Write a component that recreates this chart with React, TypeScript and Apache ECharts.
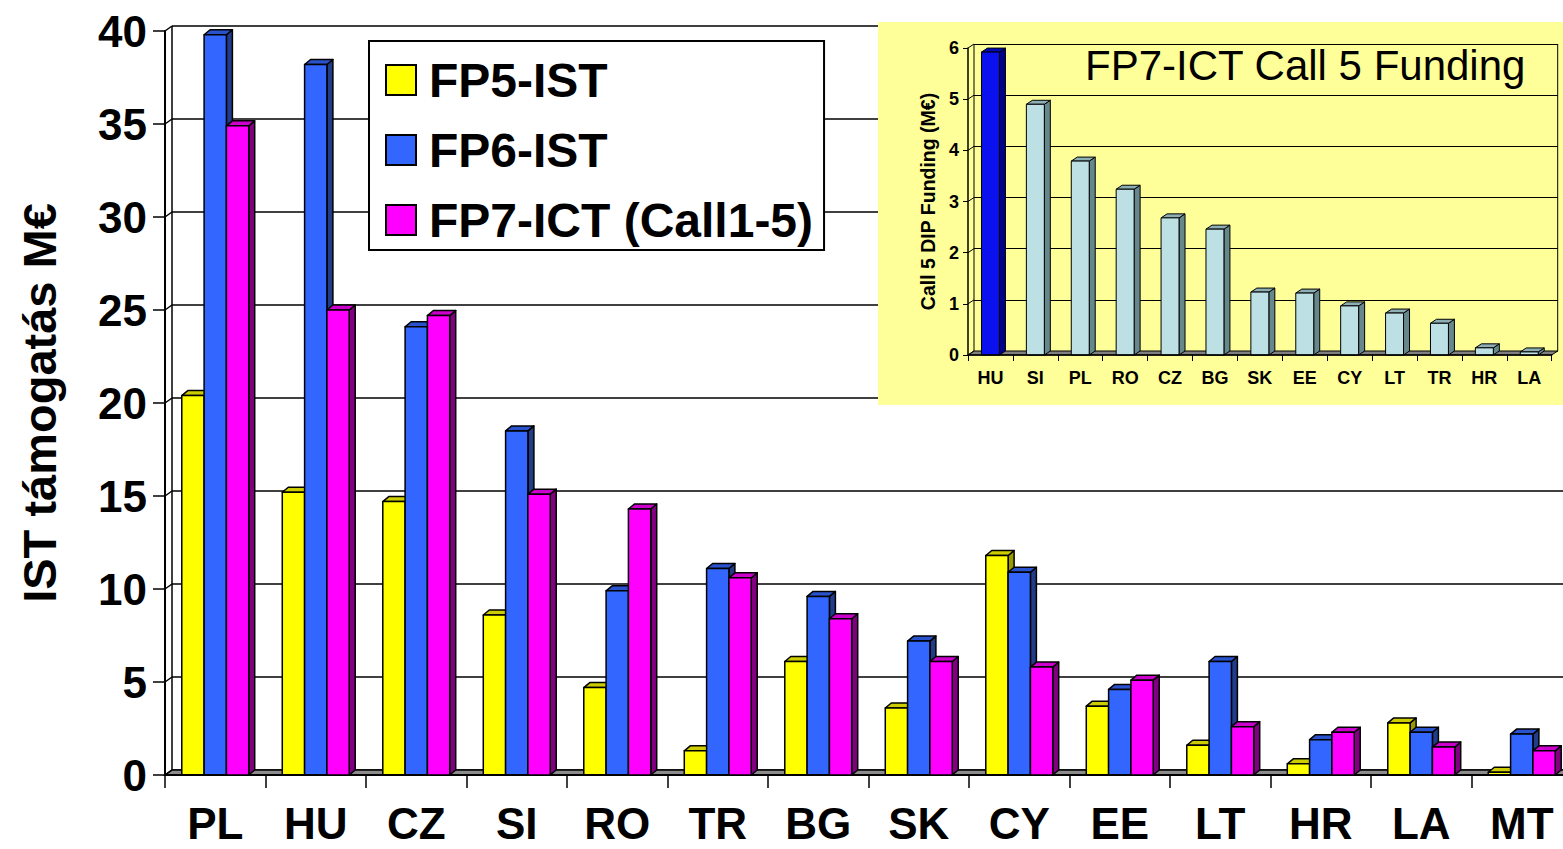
import React, { useEffect, useRef } from "react";
import * as echarts from "echarts";

const categories = ["PL", "HU", "CZ", "SI", "RO", "TR", "BG", "SK", "CY", "EE", "LT", "HR", "LA", "MT"];
const fp5Values = [20.4, 15.2, 14.7, 8.6, 4.7, 1.3, 6.1, 3.6, 11.8, 3.7, 1.6, 0.6, 2.8, 0.15];
const fp6Values = [39.8, 38.2, 24.1, 18.5, 9.9, 11.1, 9.6, 7.2, 10.9, 4.6, 6.1, 1.9, 2.3, 2.2];
const fp7Values = [34.9, 25.0, 24.7, 15.1, 14.3, 10.6, 8.4, 6.1, 5.8, 5.1, 2.6, 2.3, 1.5, 1.3];
const seriesNames = ["FP5-IST", "FP6-IST", "FP7-ICT (Call1-5)"];
const mainTicks = [0, 5, 10, 15, 20, 25, 30, 35, 40];

const insetCategories = ["HU", "SI", "PL", "RO", "CZ", "BG", "SK", "EE", "CY", "LT", "TR", "HR", "LA"];
const insetValues = [5.92, 4.9, 3.79, 3.24, 2.68, 2.46, 1.23, 1.21, 0.96, 0.82, 0.62, 0.14, 0.06];
const insetHighlight = "HU";
const insetTicks = [0, 1, 2, 3, 4, 5, 6];

const FONT = '"Liberation Sans", Arial, Helvetica, sans-serif';

const palette = [
  { front: "#FFFF00", top: "#CCCC00", side: "#9A9A00" },
  { front: "#3366FF", top: "#2A52CC", side: "#213C88" },
  { front: "#FF00FF", top: "#CC00CC", side: "#800080" },
];
const insetNormal = { front: "#BCE0E4", top: "#8DAEB2", side: "#66878B" };
const insetHi = { front: "#0A10EE", top: "#0008B8", side: "#000088" };

function bar3d(k: number, n: number, ratio: number, dx: number, dy: number, lw: number, colorFn: (i: number) => any) {
  return (params: any, api: any) => {
    const idx = api.value(0);
    const v = api.value(1);
    const top = api.coord([idx, v]);
    const base = api.coord([idx, 0]);
    const band = api.size([1, 0])[0];
    const w = band * ratio;
    const x0 = top[0] - (n * w) / 2 + k * w;
    const x1 = x0 + w;
    const yT = top[1];
    const yB = base[1];
    const c = colorFn(params.dataIndex);
    const st = (fill: string) => ({ fill, stroke: "#000", lineWidth: lw, lineJoin: "round" });
    return {
      type: "group",
      children: [
        { type: "polygon", shape: { points: [[x1, yT], [x1 + dx, yT - dy], [x1 + dx, yB - dy], [x1, yB]] }, style: st(c.side) },
        { type: "polygon", shape: { points: [[x0, yT], [x0 + dx, yT - dy], [x1 + dx, yT - dy], [x1, yT]] }, style: st(c.top) },
        { type: "rect", shape: { x: x0, y: yT, width: w, height: yB - yT }, style: st(c.front) },
      ],
    };
  };
}

function walls(n: number, ticks: number[], dx: number, dy: number, floorFill: string, lw: number) {
  return (params: any, api: any) => {
    const band = api.size([1, 0])[0];
    const c0 = api.coord([0, 0]);
    const xL = c0[0] - band / 2;
    const yB = c0[1];
    const xR = api.coord([n - 1, 0])[0] + band / 2;
    const yTop = api.coord([0, ticks[ticks.length - 1]])[1];
    const ls = { stroke: "#000", lineWidth: lw };
    const children: any[] = [
      { type: "polygon", shape: { points: [[xL, yB], [xR, yB], [xR + dx, yB - dy], [xL + dx, yB - dy]] }, style: { fill: floorFill, stroke: "#000", lineWidth: lw } },
      { type: "line", shape: { x1: xL + dx, y1: yB - dy, x2: xL + dx, y2: yTop - dy }, style: ls },
      { type: "line", shape: { x1: xR + dx, y1: yB - dy, x2: xR + dx, y2: yTop - dy }, style: ls },
    ];
    ticks.forEach((t) => {
      const y = api.coord([0, t])[1];
      children.push({ type: "line", shape: { x1: xL, y1: y, x2: xL + dx, y2: y - dy }, style: ls });
    });
    return { type: "group", children };
  };
}

export default function App() {
  const ref = useRef<HTMLDivElement>(null);
  useEffect(() => {
    if (!ref.current) return;
    const chart = echarts.init(ref.current, null, { renderer: "svg" });
    const mainSeriesValues = [fp5Values, fp6Values, fp7Values];
    const catW = 100.5;
    const insetW = 44.9;
    const option: any = {
      animation: false,
      backgroundColor: "#ffffff",
      textStyle: { fontFamily: FONT },
      title: {
        text: "FP7-ICT Call 5 Funding",
        left: 1080,
        top: 39,
        z: 8,
        textStyle: { fontFamily: FONT, fontSize: 42, fontWeight: "normal", color: "#000" },
      },
      legend: {
        left: 369,
        top: 41,
        orient: "vertical",
        itemWidth: 30,
        itemHeight: 30,
        itemGap: 22,
        padding: [15, 11, 6, 16],
        backgroundColor: "#ffffff",
        borderColor: "#000",
        borderWidth: 2,
        borderRadius: 0,
        selectedMode: false,
        textStyle: { fontFamily: FONT, fontSize: 48, fontWeight: "bold", color: "#000", lineHeight: 48, padding: [0, 0, 0, 8] },
        data: seriesNames.map((name, i) => ({
          name,
          icon: "rect",
          itemStyle: { color: palette[i].front, borderColor: "#000", borderWidth: 2 },
        })),
      },
      graphic: {
        elements: [
          { type: "rect", z: 3, shape: { x: 878, y: 22, width: 700, height: 383 }, style: { fill: "#FFFF99" }, silent: true },
        ],
      },
      grid: [
        { left: 165, top: 31, width: catW * categories.length, height: 744, outerBoundsMode: "none", containLabel: false },
        { left: 172, top: 26, width: catW * categories.length, height: 744, outerBoundsMode: "none", containLabel: false },
        { left: 968, top: 48, width: insetW * insetCategories.length, height: 307, outerBoundsMode: "none", containLabel: false },
        { left: 974, top: 44, width: insetW * insetCategories.length, height: 307, outerBoundsMode: "none", containLabel: false },
      ],
      xAxis: [
        {
          gridIndex: 0,
          type: "category",
          data: categories,
          z: 3,
          axisLine: { show: true, lineStyle: { color: "#000", width: 2 } },
          axisTick: { show: true, length: 13, interval: 0, lineStyle: { color: "#000", width: 1.5 } },
          axisLabel: { interval: 0, margin: 29, lineHeight: 38, fontFamily: FONT, fontSize: 44, fontWeight: "bold", color: "#000" },
          splitLine: { show: false },
        },
        { gridIndex: 1, type: "category", data: categories, show: false },
        {
          gridIndex: 2,
          type: "category",
          data: insetCategories,
          z: 6,
          axisLine: { show: true, lineStyle: { color: "#000", width: 1.5 } },
          axisTick: { show: true, length: 6, interval: 0, lineStyle: { color: "#000", width: 1 } },
          axisLabel: { interval: 0, margin: 14, fontFamily: FONT, fontSize: 18, fontWeight: "bold", color: "#000" },
          splitLine: { show: false },
        },
        { gridIndex: 3, type: "category", data: insetCategories, show: false },
      ],
      yAxis: [
        {
          gridIndex: 0,
          type: "value",
          min: 0,
          max: 40,
          interval: 5,
          z: 3,
          name: "IST támogatás M€",
          nameLocation: "middle",
          nameGap: 102,
          nameTextStyle: { fontFamily: FONT, fontSize: 47, fontWeight: "bold", color: "#000" },
          axisLine: { show: true, lineStyle: { color: "#000", width: 2 } },
          axisTick: { show: true, length: 12, lineStyle: { color: "#000", width: 1.5 } },
          axisLabel: { margin: 18, fontFamily: FONT, fontSize: 44, fontWeight: "bold", color: "#000" },
          splitLine: { show: false },
        },
        {
          gridIndex: 1,
          type: "value",
          min: 0,
          max: 40,
          interval: 5,
          axisLine: { show: false },
          axisTick: { show: false },
          axisLabel: { show: false },
          splitLine: { show: true, lineStyle: { color: "#000", width: 1.5 } },
        },
        {
          gridIndex: 2,
          type: "value",
          min: 0,
          max: 6,
          interval: 1,
          z: 6,
          name: "Call 5 DIP Funding (M€)",
          nameLocation: "middle",
          nameGap: 30,
          nameTextStyle: { fontFamily: FONT, fontSize: 19.5, fontWeight: "bold", color: "#000" },
          axisLine: { show: true, lineStyle: { color: "#000", width: 1.5 } },
          axisTick: { show: true, length: 5, lineStyle: { color: "#000", width: 1 } },
          axisLabel: { margin: 9, fontFamily: FONT, fontSize: 18, fontWeight: "bold", color: "#000" },
          splitLine: { show: false },
        },
        {
          gridIndex: 3,
          type: "value",
          min: 0,
          max: 6,
          interval: 1,
          z: 4,
          axisLine: { show: false },
          axisTick: { show: false },
          axisLabel: { show: false },
          splitLine: { show: true, lineStyle: { color: "#000", width: 1 } },
        },
      ],
      series: [
        {
          type: "custom",
          name: "mainWalls",
          xAxisIndex: 0,
          yAxisIndex: 0,
          z: 1,
          silent: true,
          data: [[0, 0]],
          encode: { x: 0, y: 1 },
          renderItem: walls(categories.length, mainTicks, 7, 5, "#8C8C8C", 1.5),
        },
        ...mainSeriesValues.map((vals, k) => ({
          type: "custom",
          name: seriesNames[k],
          xAxisIndex: 0,
          yAxisIndex: 0,
          z: 2 + k,
          itemStyle: { color: palette[k].front, borderColor: "#000", borderWidth: 2 },
          data: vals.map((v, i) => [i, v]),
          encode: { x: 0, y: 1 },
          renderItem: bar3d(k, 3, 0.222, 6, 5, 1.5, () => palette[k]),
        })),
        {
          type: "custom",
          name: "insetWalls",
          xAxisIndex: 2,
          yAxisIndex: 2,
          z: 5,
          silent: true,
          data: [[0, 0]],
          encode: { x: 0, y: 1 },
          renderItem: walls(insetCategories.length, insetTicks, 6, 4, "#808080", 1),
        },
        {
          type: "custom",
          name: "Call 5",
          xAxisIndex: 2,
          yAxisIndex: 2,
          z: 6,
          data: insetValues.map((v, i) => [i, v]),
          encode: { x: 0, y: 1 },
          renderItem: bar3d(0, 1, 0.4, 6, 4, 1, (i: number) => (insetCategories[i] === insetHighlight ? insetHi : insetNormal)),
        },
      ],
    };
    chart.setOption(option);
    return () => chart.dispose();
  }, []);
  return <div ref={ref} style={{ position: "fixed", left: 0, top: 0, width: 1563, height: 849 }} />;
}
